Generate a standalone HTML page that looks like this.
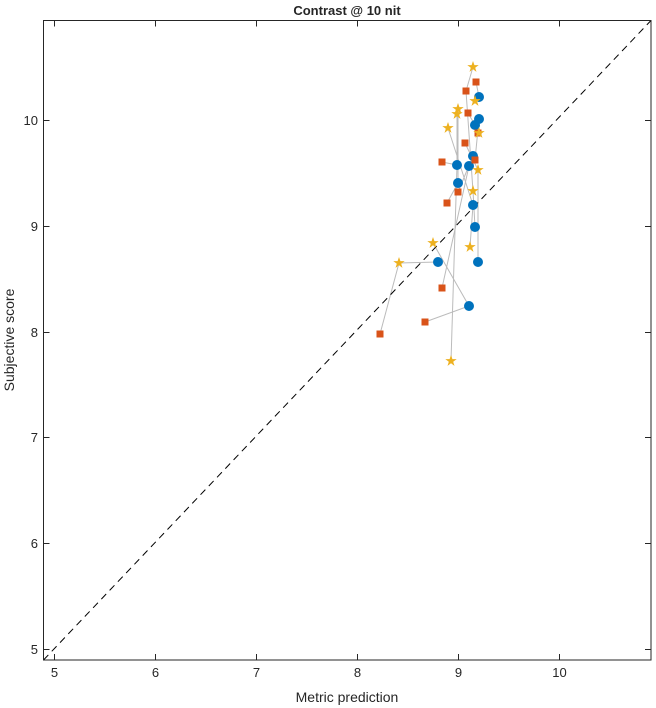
<!DOCTYPE html>
<html><head><style>body{margin:0;background:#fff}svg{display:block}text{font-family:"Liberation Sans",sans-serif;fill:#262626}</style></head>
<body>
<svg width="656" height="708" viewBox="0 0 656 708">
<rect x="0" y="0" width="656" height="708" fill="#fff"/>
<text x="347" y="15" font-size="13" font-weight="bold" text-anchor="middle">Contrast @ 10 nit</text>
<g stroke="#bbb" stroke-width="1" fill="none">
<polyline points="380,334 399,263 438,262"/>
<polyline points="433,243 469,306 425,322"/>
<polyline points="442,288 469,166 473,156"/>
<polyline points="451,361 457,165 457,114"/>
<polyline points="447,203 458,183 458,109"/>
<polyline points="442,162 457,165"/>
<polyline points="473,67 466,91 473,191 475,227"/>
<polyline points="476,82 479,97 475,101"/>
<polyline points="468,113 475,125 479,133"/>
<polyline points="448,128 473,205 470,247"/>
<polyline points="465,143 478,170 478,262"/>
<polyline points="458,192 473,156"/>
<polyline points="475,160 479,119"/>
</g>
<line x1="43.5" y1="660" x2="651" y2="20.5" stroke="#000" stroke-width="1" stroke-dasharray="7,5"/>
<g fill="#0072bd">
<circle cx="479" cy="97" r="5"/><circle cx="479" cy="119" r="5"/><circle cx="475" cy="125" r="5"/><circle cx="473" cy="156" r="5"/><circle cx="469" cy="166" r="5"/><circle cx="457" cy="165" r="5"/><circle cx="458" cy="183" r="5"/><circle cx="473" cy="205" r="5"/><circle cx="475" cy="227" r="5"/><circle cx="478" cy="262" r="5"/><circle cx="438" cy="262" r="5"/><circle cx="469" cy="306" r="5"/>
</g>
<g fill="#d95319">
<rect x="472.5" y="78.5" width="7" height="7"/><rect x="462.5" y="87.5" width="7" height="7"/><rect x="464.5" y="109.5" width="7" height="7"/><rect x="461.5" y="139.5" width="7" height="7"/><rect x="471.5" y="156.5" width="7" height="7"/><rect x="438.5" y="158.5" width="7" height="7"/><rect x="454.5" y="188.5" width="7" height="7"/><rect x="443.5" y="199.5" width="7" height="7"/><rect x="438.5" y="284.5" width="7" height="7"/><rect x="421.5" y="318.5" width="7" height="7"/><rect x="376.5" y="330.5" width="7" height="7"/><rect x="474.5" y="129.5" width="7" height="7"/>
</g>
<defs><polygon id="st" points="0,-6 1.4,-1.9 5.7,-1.9 2.2,0.7 3.5,4.9 0,2.3 -3.5,4.9 -2.2,0.7 -5.7,-1.9 -1.4,-1.9" fill="#edb120"/></defs>
<g>
<use href="#st" x="473" y="67"/><use href="#st" x="458" y="109"/><use href="#st" x="457" y="114"/><use href="#st" x="475" y="101"/><use href="#st" x="448" y="128"/><use href="#st" x="479" y="133"/><use href="#st" x="478" y="170"/><use href="#st" x="473" y="191"/><use href="#st" x="433" y="243"/><use href="#st" x="470" y="247"/><use href="#st" x="399" y="263"/><use href="#st" x="451" y="361"/>
</g>
<rect x="43.5" y="20.5" width="607.5" height="639.5" fill="none" stroke="#262626" stroke-width="1"/>
<g stroke="#262626" stroke-width="1">
<line x1="54.5" y1="660" x2="54.5" y2="654"/><line x1="155.5" y1="660" x2="155.5" y2="654"/><line x1="256.5" y1="660" x2="256.5" y2="654"/><line x1="357.5" y1="660" x2="357.5" y2="654"/><line x1="458.5" y1="660" x2="458.5" y2="654"/><line x1="559.5" y1="660" x2="559.5" y2="654"/>
<line x1="54.5" y1="20.5" x2="54.5" y2="26.5"/><line x1="155.5" y1="20.5" x2="155.5" y2="26.5"/><line x1="256.5" y1="20.5" x2="256.5" y2="26.5"/><line x1="357.5" y1="20.5" x2="357.5" y2="26.5"/><line x1="458.5" y1="20.5" x2="458.5" y2="26.5"/><line x1="559.5" y1="20.5" x2="559.5" y2="26.5"/>
<line x1="43.5" y1="120.5" x2="49.5" y2="120.5"/><line x1="43.5" y1="226.5" x2="49.5" y2="226.5"/><line x1="43.5" y1="332.5" x2="49.5" y2="332.5"/><line x1="43.5" y1="437.5" x2="49.5" y2="437.5"/><line x1="43.5" y1="543.5" x2="49.5" y2="543.5"/><line x1="43.5" y1="649.5" x2="49.5" y2="649.5"/>
<line x1="651" y1="120.5" x2="645" y2="120.5"/><line x1="651" y1="226.5" x2="645" y2="226.5"/><line x1="651" y1="332.5" x2="645" y2="332.5"/><line x1="651" y1="437.5" x2="645" y2="437.5"/><line x1="651" y1="543.5" x2="645" y2="543.5"/><line x1="651" y1="649.5" x2="645" y2="649.5"/>
</g>
<g font-size="13" text-anchor="middle">
<text x="54.5" y="677">5</text><text x="155.5" y="677">6</text><text x="256.5" y="677">7</text><text x="357.5" y="677">8</text><text x="458.5" y="677">9</text><text x="559.5" y="677">10</text>
</g>
<g font-size="13" text-anchor="end">
<text x="38" y="125">10</text><text x="38" y="231">9</text><text x="38" y="337">8</text><text x="38" y="442">7</text><text x="38" y="548">6</text><text x="38" y="654">5</text>
</g>
<text x="347" y="702" font-size="14" text-anchor="middle">Metric prediction</text>
<text x="14" y="340" font-size="14" text-anchor="middle" transform="rotate(-90 14 340)">Subjective score</text>
</svg>
</body></html>
